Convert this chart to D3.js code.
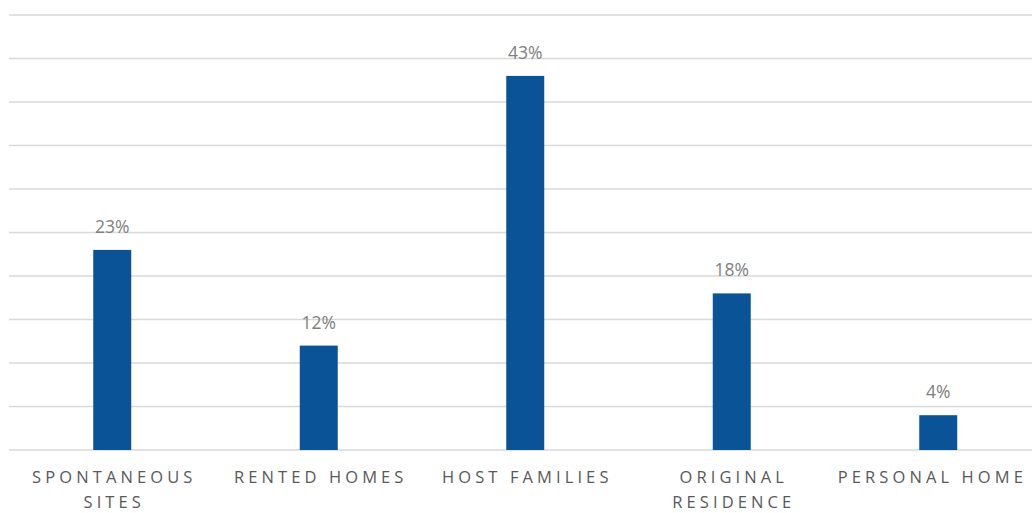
<!DOCTYPE html>
<html><head><meta charset="utf-8">
<script src="https://cdn.jsdelivr.net/npm/d3@7"></script>
<style>html,body{margin:0;padding:0;background:#fff;overflow:hidden}</style>
</head><body>
<svg id="c" width="1032" height="513"></svg>
<script>
const categories = ["SPONTANEOUS SITES", "RENTED HOMES", "HOST FAMILIES", "ORIGINAL RESIDENCE", "PERSONAL HOME"];
const labelLines = [["SPONTANEOUS", "SITES"], ["RENTED HOMES"], ["HOST FAMILIES"], ["ORIGINAL", "RESIDENCE"], ["PERSONAL HOME"]];
const values = [0.23, 0.12, 0.43, 0.18, 0.04];
const yTicks = [0, 0.05, 0.10, 0.15, 0.20, 0.25, 0.30, 0.35, 0.40, 0.45, 0.50];

const svg = d3.select("#c");
const x = d3.scaleBand().domain(categories).range([9, 1041.5]).paddingInner(0.816).paddingOuter(0.408);
const y = d3.scaleLinear().domain([0, 0.5]).range([450, 15]);

svg.append("g").selectAll("line").data(yTicks).join("line")
  .attr("x1", 9).attr("x2", 1045)
  .attr("y1", d => y(d)).attr("y2", d => y(d))
  .attr("stroke", "#d9d9d9").attr("stroke-width", 1.6);

svg.append("g").selectAll("rect").data(values).join("rect")
  .attr("x", (d, i) => x(categories[i]))
  .attr("width", x.bandwidth())
  .attr("y", d => y(d))
  .attr("height", d => y(0) - y(d))
  .attr("fill", "#0a5396");

svg.append("g").selectAll("text").data(values).join("text")
  .attr("x", (d, i) => x(categories[i]) + x.bandwidth() / 2)
  .attr("y", d => y(d) - 17)
  .attr("text-anchor", "middle")
  .attr("font-family", "'Open Sans', sans-serif")
  .attr("font-size", 17.5)
  .attr("fill", "#808080")
  .text(d => d3.format(".0%")(d));

const lg = svg.append("g").selectAll("text").data(categories).join("text")
  .attr("text-anchor", "middle")
  .attr("font-family", "'Open Sans', sans-serif")
  .attr("font-size", 16.5)
  .attr("letter-spacing", "4.1px")
  .attr("fill", "#595959");
lg.each(function(d, i) {
  const t = d3.select(this);
  labelLines[i].forEach((ln, j) => {
    t.append("tspan")
      .attr("x", x(d) + x.bandwidth() / 2 + 2)
      .attr("y", 483 + j * 25)
      .text(ln);
  });
  // keep the label inside the visible area
  const bb = this.getBBox();
  const over = bb.x + bb.width - 1027;
  if (over > 0) t.selectAll("tspan").attr("x", x(d) + x.bandwidth() / 2 + 2 - over);
});
</script>
</body></html>
